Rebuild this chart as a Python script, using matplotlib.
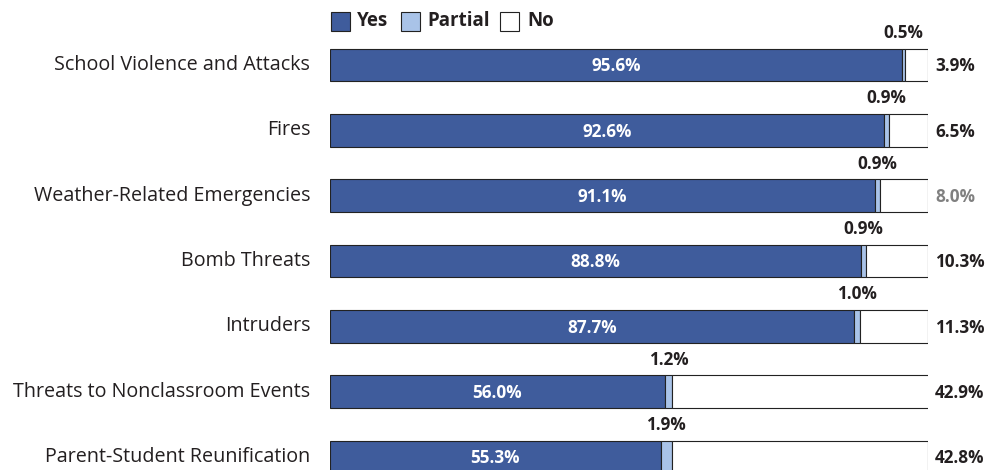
import matplotlib.pyplot as plt
from matplotlib.patches import Rectangle

categories = ["School Violence and Attacks", "Fires", "Weather-Related Emergencies",
              "Bomb Threats", "Intruders", "Threats to Nonclassroom Events",
              "Parent-Student Reunification"]
yes = [95.6, 92.6, 91.1, 88.8, 87.7, 56.0, 55.3]
partial = [0.5, 0.9, 0.9, 0.9, 1.0, 1.2, 1.9]
no = [3.9, 6.5, 8.0, 10.3, 11.3, 42.9, 42.8]
legend_labels = ["Yes", "Partial", "No"]

c_yes = "#3f5c9c"
c_partial = "#a9c3e8"
c_no = "white"
edge = "#222222"
txt = "#231f20"

plt.rcParams["font.family"] = ["Open Sans", "DejaVu Sans"]

W, H = 990, 470
fig = plt.figure(figsize=(W / 100, H / 100), dpi=100)
ax = fig.add_axes([330 / W, 0, 598 / W, 1])

y = list(range(len(categories)))
h = 0.5
ax.barh(y, yes, height=h, color=c_yes, edgecolor=edge, linewidth=0.8)
ax.barh(y, partial, left=yes, height=h, color=c_partial, edgecolor=edge, linewidth=0.8)
left3 = [a + b for a, b in zip(yes, partial)]
ax.barh(y, no, left=left3, height=h, color=c_no, edgecolor=edge, linewidth=0.8)

for i in y:
    ax.text(yes[i] / 2, i + 0.02, f"{yes[i]:.1f}%", ha="center", va="center",
            color="white", fontsize=12.3, fontweight="bold")
    ax.text(yes[i] + partial[i] / 2, i - h / 2 - 0.1, f"{partial[i]:.1f}%",
            ha="center", va="bottom", color=txt, fontsize=12.3, fontweight="bold")
    ax.text(101.2, i + 0.02, f"{no[i]:.1f}%", ha="left", va="center",
            color="#808080" if i == 2 else txt, fontsize=12.3, fontweight="bold")
    ax.text(-3.3, i, categories[i], ha="right", va="center", color=txt, fontsize=14.2)

ax.set_xlim(0, 100)
ax.set_ylim(6 + 13 / 65.33, -65 / 65.33)
ax.axis("off")

# legend drawn by hand (pixel positions from the reference)
box_x = [331, 401, 500]
text_x = [357, 427, 527]
for lab, col, bx, tx in zip(legend_labels, [c_yes, c_partial, c_no], box_x, text_x):
    fig.patches.append(Rectangle((bx / W, 1 - 31 / H), 19 / W, 19 / H,
                                 transform=fig.transFigure, facecolor=col,
                                 edgecolor=edge, linewidth=0.8))
    fig.text(tx / W, 1 - 21 / H, lab, ha="left", va="center", color=txt,
             fontsize=13.5, fontweight="bold")

fig.savefig("out.png", dpi=100)
